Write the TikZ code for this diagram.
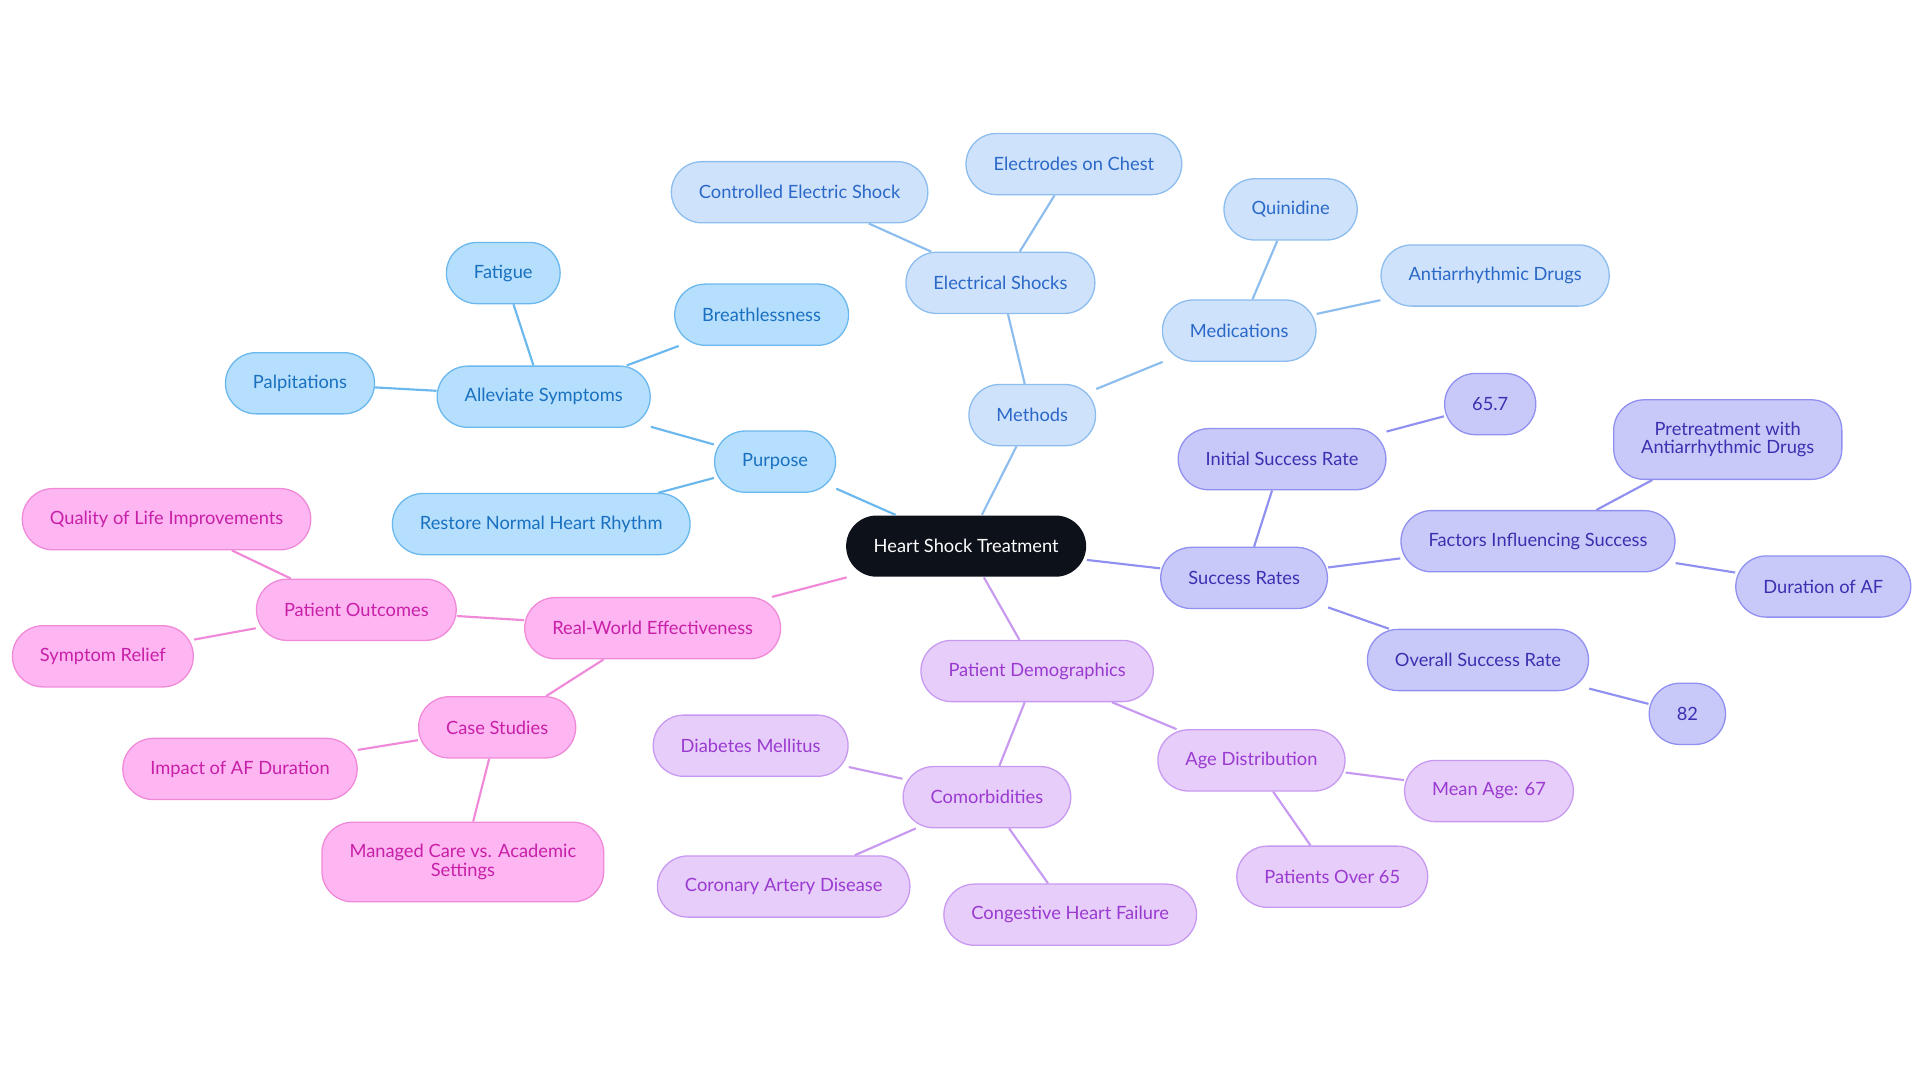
\documentclass[tikz,border=0pt]{standalone}
\usepackage{fontspec}
\setmainfont{Lato}
\definecolor{rootfill}{HTML}{0D111A}
\definecolor{bluefill}{HTML}{B5DFFC}
\definecolor{bluetext}{HTML}{1A70C0}
\definecolor{blueline}{HTML}{6BB8EE}
\definecolor{skyfill}{HTML}{CFE2FB}
\definecolor{skytext}{HTML}{2A68C8}
\definecolor{skyline}{HTML}{8CBDEE}
\definecolor{indfill}{HTML}{C9C9F9}
\definecolor{indtext}{HTML}{3A30B0}
\definecolor{indline}{HTML}{9090F0}
\definecolor{purfill}{HTML}{E7CDFA}
\definecolor{purtext}{HTML}{9A3AD0}
\definecolor{purline}{HTML}{C899F0}
\definecolor{pinkfill}{HTML}{FDB6F1}
\definecolor{pinktext}{HTML}{C81FA8}
\definecolor{pinkline}{HTML}{F08AD8}
\tikzset{
  box/.style={rounded corners=0.5cm, minimum height=1cm, inner xsep=0.45cm,
    align=center, font=\fontsize{8.5}{8.5}\selectfont, line width=0.6pt},
  bluebox/.style={box, fill=bluefill, draw=blueline, text=bluetext},
  skybox/.style={box, fill=skyfill, draw=skyline, text=skytext},
  indbox/.style={box, fill=indfill, draw=indline, text=indtext},
  purbox/.style={box, fill=purfill, draw=purline, text=purtext},
  pinkbox/.style={box, fill=pinkfill, draw=pinkline, text=pinktext},
}
\begin{document}
\begin{tikzpicture}[x=0.02cm, y=-0.02cm]
  \useasboundingbox (0,0) rectangle (1568,884);

  % centre
  \node[box, fill=rootfill, text=white] (root) at (789,446) {Heart Shock Treatment};

  % purpose
  \node[bluebox] (purpose) at (633,377) {Purpose};
  \node[bluebox] (alleviate) at (444,324) {Alleviate Symptoms};
  \node[bluebox] (restore) at (442,428) {Restore Normal Heart Rhythm};
  \node[bluebox] (fatigue) at (411,223) {Fatigue};
  \node[bluebox] (breath) at (622,257) {Breathlessness};
  \node[bluebox] (palp) at (245,313) {Palpitations};

  % methods
  \node[skybox] (methods) at (843,339) {Methods};
  \node[skybox] (shocks) at (817,231) {Electrical Shocks};
  \node[skybox] (meds) at (1012,270) {Medications};
  \node[skybox] (controlled) at (653,157) {Controlled Electric Shock};
  \node[skybox] (electrodes) at (877,134) {Electrodes on Chest};
  \node[skybox] (quinidine) at (1054,171) {Quinidine};
  \node[skybox] (antiarr) at (1221,225) {Antiarrhythmic Drugs};

  % success rates
  \node[indbox] (success) at (1016,472) {Success Rates};
  \node[indbox] (initial) at (1047,375) {Initial Success Rate};
  \node[indbox] (v657) at (1217,330) {65.7};
  \node[indbox] (factors) at (1256,442) {Factors Influencing Success};
  \node[indbox, minimum height=1.3cm] (pretreat) at (1411,359) {Pretreatment with\\Antiarrhythmic Drugs};
  \node[indbox] (duration) at (1489,479) {Duration of AF};
  \node[indbox] (overall) at (1207,539) {Overall Success Rate};
  \node[indbox] (v82) at (1378,583) {82};

  % demographics
  \node[purbox] (demo) at (847,548) {Patient Demographics};
  \node[purbox] (comorb) at (806,651) {Comorbidities};
  \node[purbox] (age) at (1022,621) {Age Distribution};
  \node[purbox] (diabetes) at (613,609) {Diabetes Mellitus};
  \node[purbox] (coronary) at (640,724) {Coronary Artery Disease};
  \node[purbox] (chf) at (874,747) {Congestive Heart Failure};
  \node[purbox] (mean) at (1216,646) {Mean Age: 67};
  \node[purbox] (over65) at (1088,716) {Patients Over 65};

  % real-world
  \node[pinkbox] (real) at (533,513) {Real-World Effectiveness};
  \node[pinkbox] (outcomes) at (291,498) {Patient Outcomes};
  \node[pinkbox] (cases) at (406,594) {Case Studies};
  \node[pinkbox] (quality) at (136,424) {Quality of Life Improvements};
  \node[pinkbox] (relief) at (84,536) {Symptom Relief};
  \node[pinkbox] (impact) at (196,628) {Impact of AF Duration};
  \node[pinkbox, minimum height=1.3cm] (managed) at (378,704) {Managed Care vs. Academic\\Settings};

  \begin{scope}[line width=1pt]
    \draw[blueline] (root) -- (purpose);
    \foreach \n in {alleviate, restore} \draw[blueline] (purpose) -- (\n);
    \foreach \n in {fatigue, breath, palp} \draw[blueline] (alleviate) -- (\n);
    \draw[skyline] (root) -- (methods);
    \foreach \n in {shocks, meds} \draw[skyline] (methods) -- (\n);
    \foreach \n in {controlled, electrodes} \draw[skyline] (shocks) -- (\n);
    \foreach \n in {quinidine, antiarr} \draw[skyline] (meds) -- (\n);
    \draw[indline] (root) -- (success);
    \foreach \n in {initial, factors, overall} \draw[indline] (success) -- (\n);
    \draw[indline] (initial) -- (v657);
    \foreach \n in {pretreat, duration} \draw[indline] (factors) -- (\n);
    \draw[indline] (overall) -- (v82);
    \draw[purline] (root) -- (demo);
    \foreach \n in {comorb, age} \draw[purline] (demo) -- (\n);
    \foreach \n in {diabetes, coronary, chf} \draw[purline] (comorb) -- (\n);
    \foreach \n in {mean, over65} \draw[purline] (age) -- (\n);
    \draw[pinkline] (root) -- (real);
    \foreach \n in {outcomes, cases} \draw[pinkline] (real) -- (\n);
    \foreach \n in {quality, relief} \draw[pinkline] (outcomes) -- (\n);
    \foreach \n in {impact, managed} \draw[pinkline] (cases) -- (\n);
  \end{scope}
\end{tikzpicture}
\end{document}
